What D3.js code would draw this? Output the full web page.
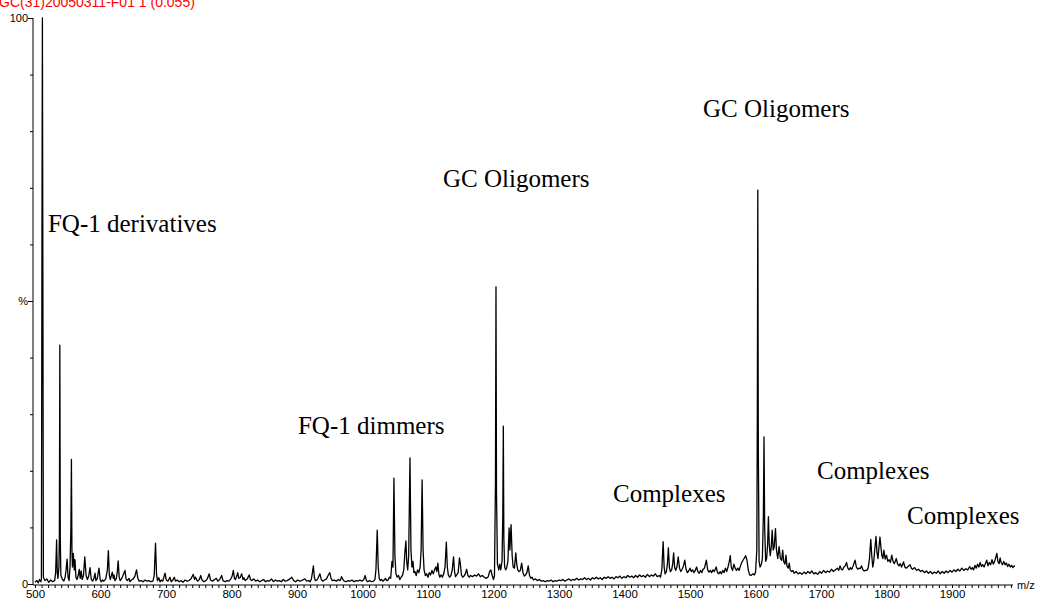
<!DOCTYPE html>
<html>
<head>
<meta charset="utf-8">
<script src="https://cdn.jsdelivr.net/npm/d3@7"></script>
<style>
  body { margin: 0; background: #fff; }
  svg { display: block; }
  .tick text { font-family: Arial, "Liberation Sans", sans-serif; }
</style>
</head>
<body>
<div id="chart"></div>
<script>
// Spectrum header text (cut off at the top of the picture)
let spectrumTitle = "GC(31)20050311-F01 1 (0.055)";

// Profile points [m/z, relative intensity %]
let monomerRegion = [
  [500, 0.3], [503, 0.6], [505, 0.2], [507, 0.8], [509, 0.4], [509.8, 0.8], [510.6, 60], [511.3, 100], [512, 55], [512.8, 1.2],
  [515, 0.6], [518, 0.9], [521, 0.3], [524, 0.7], [527, 0.4], [530, 0.6], [531.5, 2], [533, 7.8], [534, 2], [535, 1],
  [536.5, 3], [537.2, 8], [537.9, 42.2], [538.6, 8], [539.5, 1.5], [542, 0.8], [544, 0.5], [546, 1.2], [547.5, 2.5], [549, 4.4],
  [550.5, 1.2], [552, 0.6], [553.5, 3], [554.8, 10], [555.6, 22], [556.4, 6], [557.2, 3], [558.5, 5.4], [560, 2.5], [561, 4.3],
  [562.5, 1.2], [564, 0.8], [566, 1.5], [567.6, 2.6], [569, 1], [570.5, 2.3], [572, 0.8], [574, 1.5], [576, 4.8], [578, 1.5],
  [580, 0.8], [582, 1.4], [584, 2.9], [586, 0.8], [588, 0.5], [590, 1], [591.6, 1.9], [593, 0.6], [595, 0.9], [597.7, 2.8],
  [599.5, 0.8], [601, 0.4], [603, 0.7], [605, 0.5], [608, 0.9], [610.5, 2.5], [612, 5.9], [613.5, 1.5], [615, 0.8], [618, 2.1],
  [619.5, 1], [620.6, 1.6], [622, 0.6], [624, 0.9], [625.5, 2], [627, 4.1], [628.5, 1.2], [630, 0.6], [632, 0.9], [634, 1.4],
  [637.4, 2.4], [639, 0.9], [641, 0.6], [643.5, 1], [645, 0.4], [647, 0.7], [650, 0.9], [652.5, 1.4], [655, 2.5], [657, 1],
  [659, 0.5], [662, 0.6], [665, 0.4], [668, 0.7], [671, 0.5], [674, 0.6], [677, 0.4], [680, 0.5], [682, 1.5], [684, 7.2],
  [685.5, 1.8], [687, 0.6], [689, 1.1], [691, 0.4], [693, 0.7], [695, 0.5], [698.5, 1.9], [700.5, 0.7], [703, 0.5], [706, 1.2],
  [708, 0.4], [710, 0.6], [712.7, 1.2], [714.5, 0.5], [717, 0.7], [720, 0.4], [723, 0.6], [726, 0.3], [729, 0.7], [732, 0.5],
  [735, 0.6], [738, 0.9], [741.7, 1.7], [743.5, 0.8], [745, 1.2], [748, 0.5], [751, 0.8], [753, 1.5], [755, 0.7], [758, 0.4]
];

let lowMassRegion = [
  [761, 0.6], [763, 0.9], [766, 1.8], [768, 0.7], [771, 0.5], [774, 0.8], [777, 1], [779, 0.5], [782, 0.8], [785, 1.5],
  [787, 0.6], [790, 0.4], [793, 0.6], [796, 0.5], [799, 0.9], [801, 1.4], [802.8, 2.4], [804.5, 1], [806, 0.8], [808, 1.4],
  [809.5, 2], [811, 1], [813, 1.1], [815.6, 1.8], [817.5, 0.8], [819, 1.1], [821, 0.6], [824, 0.9], [827, 1.6], [829, 0.8],
  [831, 0.6], [834, 0.9], [837, 0.5], [840, 0.7], [843, 0.4], [846, 0.6], [849, 0.8], [852, 0.4], [855, 0.6], [858, 0.5],
  [861, 0.9], [864, 0.4], [867, 0.7], [870, 0.5], [873, 0.6], [876, 0.4], [879, 0.8], [882, 0.5], [885, 0.6], [889, 0.9],
  [892, 1.2], [895, 0.6], [898, 0.4], [901, 0.7], [904, 0.5], [907, 0.6], [910, 0.8], [912, 0.9], [915, 0.5], [918, 0.6],
  [920, 0.4], [922, 0.9], [923.5, 2], [925, 3.2], [926.5, 1.2], [928, 0.6], [930, 0.7], [932, 1], [935, 1.8], [937, 0.8],
  [939, 0.5], [942, 0.7], [945, 0.9], [947.5, 1.5], [950, 2], [952, 1], [954, 0.6], [957, 0.7], [960, 0.5], [963, 0.8],
  [966, 0.6], [968, 1.3], [970, 0.8], [972, 0.5], [975, 0.4], [978, 0.6], [981, 0.5], [984, 0.7], [987, 0.4], [990, 0.6],
  [993, 0.5], [996, 0.7], [999, 0.5], [1002, 0.8], [1004, 1.5], [1006, 0.6], [1008, 0.4], [1011, 0.6], [1014, 0.4], [1017, 0.5]
];

let dimerRegion = [
  [1019, 0.8], [1020.5, 2.5], [1022.5, 9.5], [1024, 3], [1025.5, 1], [1027, 0.6], [1029, 0.8], [1031, 0.5], [1033, 0.7], [1035, 1],
  [1037, 0.6], [1039, 0.7], [1041, 1.2], [1043, 1], [1045, 4], [1046.5, 3], [1048, 18.7], [1049.5, 5], [1051, 1.8], [1053, 1.2],
  [1055, 1.5], [1057, 0.8], [1059, 1.2], [1061, 1.5], [1063, 2.5], [1065, 6], [1066.3, 7.6], [1067.5, 4], [1069, 2.5], [1070.5, 5],
  [1072.5, 22.3], [1074, 6], [1075.5, 3], [1077, 4], [1078.5, 2], [1080, 2.2], [1082, 1.5], [1084, 2.5], [1086, 2], [1088, 3],
  [1089.5, 6], [1091, 18.4], [1092.5, 6], [1094, 2.5], [1096, 1.5], [1098, 1.8], [1100, 1.2], [1102, 2], [1104, 1.6], [1106, 2.4],
  [1108, 1.8], [1110, 2.5], [1112, 3], [1113.5, 2.2], [1115, 3.7], [1116.5, 1.8], [1118, 1.2], [1120, 1.6], [1122, 1.2], [1124, 1.8],
  [1126, 3], [1128, 7.4], [1129.5, 3], [1131, 1.6], [1133, 1.2], [1135, 1.5], [1137, 2.5], [1139, 4.8], [1140.5, 2.2], [1142, 1.3],
  [1144, 1.6], [1146, 2], [1148, 4.6], [1149.5, 3.5], [1151, 1.6], [1153, 1.2], [1155, 1.4], [1157, 1.8], [1159, 2.6], [1161, 1.5],
  [1163, 1.2], [1165, 1.5], [1168, 1.3], [1171, 1.6], [1174, 1.4], [1177, 1.8], [1180, 1.3], [1183, 1.5], [1186, 1.2], [1189, 1],
  [1192, 1.3], [1194, 2.2], [1196, 2.5], [1198, 1.5], [1200, 0.8]
];

let oligomerRegionA = [
  [1201.5, 1.5], [1203, 18], [1203.8, 52.5], [1204.6, 16], [1206, 3.5], [1208, 2.5], [1209.5, 3.5], [1211, 2.5], [1213, 4], [1214.2, 12],
  [1215, 27.9], [1215.8, 8], [1217, 3], [1218.5, 2.5], [1220, 2.8], [1222, 4], [1223.8, 9.9], [1225, 6], [1226.8, 10.5], [1228.5, 5],
  [1230, 3], [1232, 2.8], [1234, 5.5], [1235.5, 3.5], [1237, 2.5], [1239, 2.2], [1241, 2.4], [1243, 3.7], [1245, 2], [1247, 1.4],
  [1249, 1.6], [1251, 2], [1253, 3.2], [1255, 1.5], [1257, 1], [1259, 1.2], [1261, 0.7], [1264, 0.9], [1267, 0.6], [1270, 0.8],
  [1273, 0.5], [1276, 0.6], [1279, 0.4], [1282, 0.6], [1285, 0.5], [1288, 0.7], [1291, 0.4], [1294, 0.6], [1297, 0.5], [1300, 0.7],
  [1303, 0.6], [1306, 0.8], [1309, 0.5], [1312, 0.7], [1315, 0.9], [1318, 0.6], [1321, 0.8], [1324, 0.7], [1327, 1], [1330, 0.7],
  [1333, 0.9], [1336, 0.8], [1339, 1.1], [1342, 0.8], [1345, 1], [1348, 0.7], [1351, 1.1], [1354, 0.9], [1357, 1.2], [1360, 0.9],
  [1363, 1.1], [1366, 0.8], [1369, 1.2], [1372, 1], [1375, 1.3], [1378, 1], [1381, 1.2], [1384, 0.9], [1387, 1.3], [1390, 1.1],
  [1393, 1.4], [1396, 1], [1399, 1.3], [1402, 1.1], [1405, 1.5], [1408, 1.2], [1411, 1.4], [1414, 1.1], [1417, 1.5], [1420, 1.2],
  [1423, 1.6], [1426, 1.3], [1429, 1.5], [1432, 1.2], [1435, 1.7], [1438, 1.3], [1441, 1.6], [1444, 1.4], [1447, 1.8], [1450, 1.3]
];

let complexRegionA = [
  [1453, 1.5], [1455, 1.2], [1457, 2.5], [1459, 7.5], [1460.5, 3], [1462, 1.8], [1464, 2.2], [1465.5, 3.5], [1467, 6.4], [1468.5, 3],
  [1470, 2.2], [1472, 2.5], [1473.5, 3.5], [1475, 5.5], [1476.5, 3], [1478, 2.4], [1480, 3], [1482, 4.8], [1484, 2.8], [1486, 2.2],
  [1488, 2.6], [1490, 3.2], [1492, 4.2], [1494, 2.6], [1496, 2], [1498, 2.3], [1500, 2.8], [1502, 2.2], [1504, 2.5], [1506, 2],
  [1508, 2.4], [1510, 3], [1512, 2.2], [1514, 1.9], [1516, 2.4], [1518, 2], [1520, 2.6], [1522, 2.8], [1525, 4.2], [1527, 2.5],
  [1529, 2.1], [1531, 2.4], [1533, 2], [1535, 2.5], [1537, 2.2], [1540, 3], [1542, 2], [1544, 1.8], [1546, 2.2], [1548, 1.8],
  [1550, 2.4], [1552, 2], [1554, 2.8], [1556, 2.2], [1558, 3], [1560, 4], [1561.5, 5], [1563, 3], [1565, 2.4], [1567, 3.5],
  [1569, 2.8], [1571, 2.4], [1573, 2.8], [1575, 2.4], [1577, 3.2], [1579, 3.8], [1581, 4.2], [1583, 4.6], [1585, 5], [1587, 4.2],
  [1589, 2.5], [1591, 1.6], [1593, 1.5], [1596, 1.8], [1598, 1.6], [1600, 2]
];

let oligomerRegionB = [
  [1602, 6], [1602.8, 30], [1603.5, 69.6], [1604.3, 24], [1605.5, 4], [1607, 3], [1609, 3.5], [1610.5, 4.5], [1612, 12], [1613, 26],
  [1614, 10], [1615.5, 4], [1617, 4.5], [1618.5, 7], [1619.7, 11.9], [1621, 7], [1622.5, 5], [1624, 6.5], [1625.5, 9.5], [1627, 6],
  [1628.5, 6.5], [1630.5, 9.8], [1632, 6], [1634, 4.5], [1636, 6.6], [1638, 4.5], [1640, 4.2], [1641.5, 6], [1643, 4], [1645, 3.5],
  [1646.5, 5.1], [1648, 3.2], [1650, 2.8], [1651.5, 3.7], [1653, 2.5], [1655, 2.2], [1657, 2.4], [1659, 1.9], [1662, 2.2], [1665, 1.8],
  [1668, 2], [1671, 1.7], [1674, 2.1], [1677, 1.8], [1680, 2.2], [1683, 1.9], [1686, 2.3], [1689, 1.8], [1692, 2], [1695, 1.7],
  [1698, 2.2], [1701, 1.9], [1704, 2.4], [1707, 2], [1710, 2.3], [1713, 2.1], [1716, 2.6], [1719, 2.2], [1722, 2.5]
];

let complexRegionB = [
  [1725, 2.8], [1727, 2.4], [1729, 3.2], [1731, 2.6], [1733, 2.5], [1735, 3], [1737, 3.2], [1739, 3.8], [1741, 2.8], [1743, 2.5],
  [1745, 2.9], [1747, 2.6], [1749, 3.2], [1752, 4.2], [1754, 3], [1756, 2.6], [1758, 2.8], [1760, 2.7], [1762, 3.2], [1764, 2.5],
  [1766, 2.3], [1768, 2.4], [1770, 2.4], [1772, 2.8], [1774, 4.5], [1776, 7.9], [1777.5, 5], [1779, 3], [1780.5, 4], [1782, 6],
  [1784, 8.4], [1785.5, 5.5], [1787, 4.5], [1788.5, 6.5], [1790, 8.3], [1791.5, 6.5], [1793, 5], [1794.5, 4.5], [1796, 6], [1798, 4.4],
  [1800, 5.1], [1802, 4], [1804, 4.3], [1806, 3.8], [1808, 5.1], [1810, 4], [1812, 3.6], [1815, 4.5], [1817, 3.5], [1819, 3.2],
  [1821, 3.6], [1823, 3], [1826, 3.9], [1828, 3], [1830, 2.8], [1833, 3.1], [1836, 3.4], [1838, 2.8], [1840, 2.6], [1843, 2.9],
  [1846, 2.4], [1849, 2.6], [1852, 2.2], [1855, 2.4], [1858, 2], [1861, 2.3], [1864, 1.9], [1867, 2.2], [1870, 1.8], [1873, 2.1]
];

let complexRegionC = [
  [1876, 1.9], [1879, 2.3], [1882, 1.8], [1885, 2.2], [1888, 1.9], [1891, 2.3], [1894, 2], [1897, 2.4], [1900, 2.1], [1903, 2.5],
  [1906, 2.2], [1909, 2.6], [1912, 2.3], [1915, 2.8], [1918, 2.4], [1921, 2.7], [1924, 2.5], [1927, 3.1], [1929, 2.6], [1931, 2.9],
  [1933, 2.5], [1935, 3.3], [1937, 2.8], [1939, 3.5], [1941, 3], [1943, 3.8], [1945, 3.1], [1947, 3.4], [1949, 3], [1951, 3.6],
  [1953, 4.2], [1955, 3.2], [1957, 3.8], [1959, 3.4], [1961, 4.3], [1963, 3.5], [1965, 4], [1967, 4.8], [1968.5, 5.4], [1970, 4],
  [1972, 3.6], [1973.5, 4.6], [1975, 3.8], [1977, 3.4], [1979, 4], [1981, 3.4], [1983, 3.7], [1985, 3.1], [1987, 3.5], [1989, 3],
  [1991, 3.3], [1993, 2.9], [1995, 3.2], [1996, 3.1]
];

// Axis tick labels
let xTickLabels = [500, 600, 700, 800, 900, 1000, 1100, 1200, 1300, 1400, 1500, 1600, 1700, 1800, 1900];
let yTickValues = [0, 10, 20, 30, 40, 50, 60, 70, 80, 90, 100];
let yTickLabels = {0: "0", 50: "%", 100: "100"};

// Peak group annotations and where they sit (m/z, %)
let annotationText = ["FQ-1 derivatives", "FQ-1 dimmers", "GC Oligomers", "GC Oligomers", "Complexes", "Complexes", "Complexes"];
let annotationMz = [519.8, 901.5, 1122.9, 1519.8, 1382.4, 1693.9, 1831.3];
let annotationPct = [62.2, 26.5, 70.1, 82.5, 14.5, 18.6, 10.6];

let width = 1041,
    height = 603;

let spectrum = [].concat(monomerRegion, lowMassRegion, dimerRegion, oligomerRegionA,
    complexRegionA, oligomerRegionB, complexRegionB, complexRegionC);

let x = d3.scaleLinear().domain([500, 2000]).range([35, 1017.5]);
let y = d3.scaleLinear().domain([0, 100]).range([584, 18]);

let svg = d3.select("#chart").append("svg")
    .attr("width", width)
    .attr("height", height);

svg.append("rect")
    .attr("width", width)
    .attr("height", height)
    .attr("fill", "#fff");

// Header in red, cropped by the top edge
svg.append("text")
    .attr("x", -1)
    .attr("y", 7)
    .attr("fill", "#ff0000")
    .style("font-family", "Arial, 'Liberation Sans', sans-serif")
    .style("font-size", "14px")
    .text(spectrumTitle);

// X axis: minor ticks every 10, labels every 100
let xAxis = d3.axisBottom(x)
    .tickValues(d3.range(500, 2000, 10))
    .tickSize(3)
    .tickSizeOuter(0)
    .tickFormat(function (d) {
        return xTickLabels.indexOf(d) >= 0 ? d : "";
    });

let gx = svg.append("g")
    .attr("transform", "translate(0," + 585 + ")")
    .call(xAxis);

gx.select(".domain").remove();
gx.selectAll(".tick line").attr("stroke", "#000");
gx.selectAll(".tick text")
    .attr("y", 5)
    .attr("fill", "#000")
    .style("font-size", "11.5px");

svg.append("line")
    .attr("x1", 33).attr("x2", 1013)
    .attr("y1", 585).attr("y2", 585)
    .attr("stroke", "#000");

svg.append("text")
    .attr("x", 1017)
    .attr("y", 585)
    .attr("dy", "0.35em")
    .style("font-family", "Arial, 'Liberation Sans', sans-serif")
    .style("font-size", "11px")
    .text("m/z");

// Y axis: ticks every 10 %, labels only at 0, 50 and 100
let yAxis = d3.axisLeft(y)
    .tickValues(yTickValues)
    .tickSize(3)
    .tickSizeOuter(0)
    .tickFormat(function (d) {
        return yTickLabels[d] || "";
    });

let gy = svg.append("g")
    .attr("transform", "translate(33,0)")
    .call(yAxis);

gy.select(".domain").remove();
gy.selectAll(".tick line")
    .attr("stroke", "#000")
    .attr("x2", function (d) { return yTickLabels[d] ? -5 : -3; });
gy.selectAll(".tick text")
    .attr("x", -5)
    .attr("fill", "#000")
    .style("font-size", "11px");

svg.append("line")
    .attr("x1", 33).attr("x2", 33)
    .attr("y1", 18).attr("y2", 585)
    .attr("stroke", "#000");

// Spectrum trace
let line = d3.line()
    .x(function (d) { return x(d[0]); })
    .y(function (d) { return y(d[1]); });

svg.append("path")
    .datum(spectrum)
    .attr("fill", "none")
    .attr("stroke", "#000")
    .attr("stroke-width", 1.3)
    .attr("stroke-linejoin", "round")
    .attr("d", line);

// Annotations
svg.selectAll(".annotation")
    .data(annotationText)
    .enter().append("text")
    .attr("class", "annotation")
    .attr("x", function (d, i) { return x(annotationMz[i]); })
    .attr("y", function (d, i) { return y(annotationPct[i]); })
    .style("font-family", "'Times New Roman', 'Liberation Serif', serif")
    .style("font-size", "25px")
    .text(function (d) { return d; });
</script>
</body>
</html>
